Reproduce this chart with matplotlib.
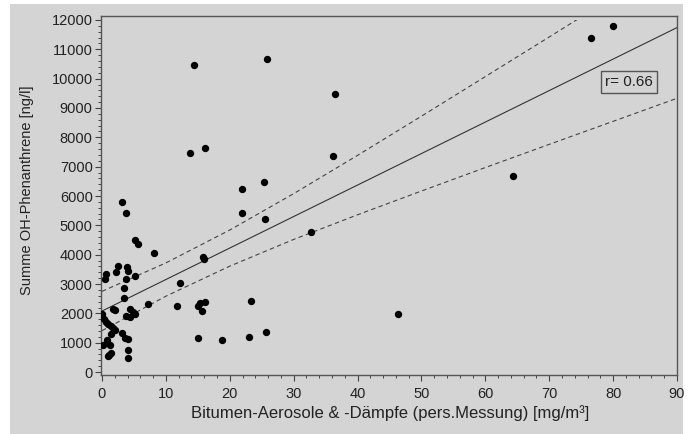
import numpy as np
import matplotlib.pyplot as plt
from matplotlib.patches import Rectangle
from matplotlib.ticker import AutoMinorLocator

plt.rcParams['font.family'] = ['Liberation Sans', 'DejaVu Sans']

# Bitumen-Aerosole & -Dämpfe [mg/m³] vs. Summe OH-Phenanthrene [ng/l]
aerosol = [80.0, 76.5, 25.8, 14.4, 36.4, 16.1, 13.75, 36.2, 64.4, 25.3,
           21.9, 3.2, 21.9, 3.75, 25.5, 32.7, 5.2, 5.7, 8.2, 15.8,
           16.0, 2.45, 3.9, 2.2, 4.1, 0.6, 0.5, 3.75, 5.2, 12.2,
           3.5, 3.4, 7.2, 23.3, 15.0, 16.1, 15.4, 15.6, 11.8, 46.3,
           1.7, 2.0, 4.4, 4.8, 5.2, 3.75, 4.4, 0.0, 0.36, 0.7,
           1.0, 1.4, 1.8, 2.1, 1.4, 3.2, 3.6, 4.0, 0.8, 0.1,
           1.25, 1.4, 1.15, 0.9, 4.1, 4.0, 25.7, 23.0, 18.8, 15.1]
phenanthrene = [11810, 11380, 10670, 10470, 9480, 7650, 7470, 7350, 6670, 6470,
                6250, 5800, 5410, 5420, 5220, 4760, 4500, 4370, 4070, 3910,
                3850, 3610, 3590, 3420, 3440, 3340, 3160, 3160, 3270, 3050,
                2850, 2530, 2330, 2430, 2260, 2400, 2340, 2080, 2250, 1970,
                2150, 2100, 2150, 2060, 1990, 1920, 1890, 1970, 1810, 1720,
                1640, 1570, 1490, 1430, 1290, 1320, 1170, 1130, 1090, 920,
                920, 640, 580, 560, 750, 490, 1360, 1200, 1090, 1160]

# regression line and confidence band
fit_x = [0, 90]
fit_y = [2080, 11740]
band_x = [0, 10, 20, 30, 40, 50, 60, 70, 80, 90]
band_upper = [2750, 3720, 4840, 6080, 7385, 8720, 10070, 11420, 12780, 14150]
band_lower = [1410, 2585, 3610, 4520, 5360, 6170, 6970, 7760, 8545, 9330]
r_text = 'r= 0.66'

bg = '#d4d4d4'
fig = plt.figure(figsize=(6.93, 4.34), dpi=100, facecolor='white')
fig.patches.append(Rectangle((10 / 693, 0), 673 / 693, 430 / 434,
                             transform=fig.transFigure, facecolor=bg,
                             edgecolor='none', zorder=-10))
ax = fig.add_axes([101 / 693, 1 - 375 / 434, 576 / 693, 359 / 434])
ax.set_facecolor(bg)

ax.scatter(aerosol, phenanthrene, s=28, color='black', zorder=3, linewidths=0)
ax.plot(fit_x, fit_y, color='#333333', lw=0.8)
clip = Rectangle((-1, -200), 100, 12200, transform=ax.transData)
for band in (band_upper, band_lower):
    ln, = ax.plot(band_x, band, color='#444444', lw=0.8, linestyle=(0, (4, 3)))
    ln.set_clip_path(clip)

ax.set_xlim(-0.15, 90)
ax.set_ylim(-100, 12135)
ax.set_xticks(np.arange(0, 91, 10))
ax.set_yticks(np.arange(0, 12001, 1000))
ax.xaxis.set_minor_locator(AutoMinorLocator(5))
ax.yaxis.set_minor_locator(AutoMinorLocator(5))
ax.tick_params(which='major', length=4, width=0.8, color='#444444',
               labelcolor='#222222', labelsize=10.5, pad=2)
ax.tick_params(axis='x', which='major', pad=4.5)
ax.tick_params(which='minor', length=2, width=0.7, color='#444444')
for sp in ax.spines.values():
    sp.set_color('#555555')
    sp.set_linewidth(1)

ax.set_xlabel('Bitumen-Aerosole & -Dämpfe (pers.Messung) [mg/m³]',
              fontsize=12, color='#222222')
ax.xaxis.set_label_coords((390 - 101) / 576, (375 - 405) / 359)
ax.set_ylabel('Summe OH-Phenanthrene [ng/l]', fontsize=10.5, color='#222222')
ax.yaxis.set_label_coords((34 - 101) / 576, (375 - 190) / 359)

ax.text((629 - 101) / 576, (375 - 82) / 359, r_text, transform=ax.transAxes,
        fontsize=11, color='#222222', ha='center', va='center',
        bbox=dict(boxstyle='square,pad=0.25', facecolor=bg,
                  edgecolor='#555555', lw=1))

fig.savefig('out.png', dpi=100, facecolor=fig.get_facecolor())
